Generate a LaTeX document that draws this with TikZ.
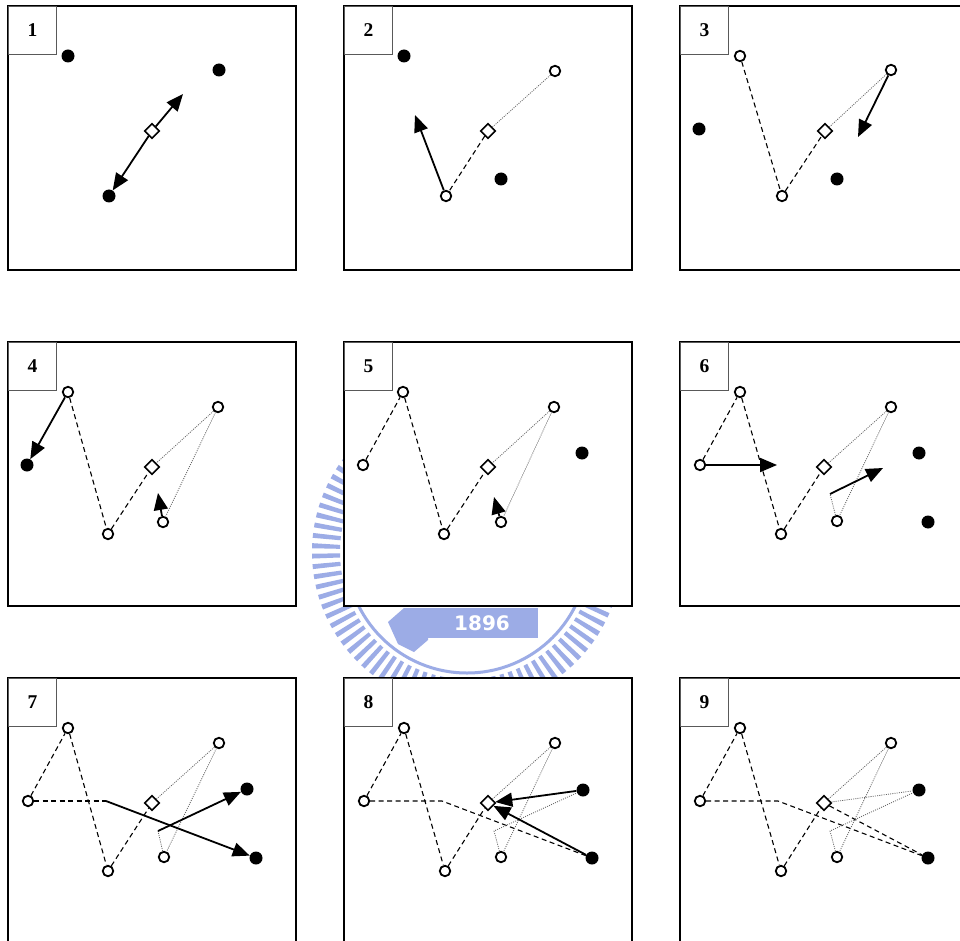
\documentclass[tikz,border=0pt]{standalone}
\usepackage{fontspec}
\setmainfont{Liberation Serif}
\setsansfont{DejaVu Sans}
\usetikzlibrary{shapes.geometric,arrows.meta}
\definecolor{wmblue}{RGB}{156,172,230}
\tikzset{
  pframe/.style={draw=black, line width=1.6pt, fill=white},
  lab/.style={draw=black!65, line width=0.8pt, fill=white, minimum size=48pt, inner sep=0pt, anchor=north west, font=\bfseries\fontsize{19.5}{19.5}\selectfont},
  opn/.style={circle, draw=black, line width=1.8pt, fill=white, minimum size=10.5pt, inner sep=0pt},
  fld/.style={circle, fill=black, minimum size=13pt, inner sep=0pt},
  dia/.style={diamond, aspect=1, draw=black, line width=1.6pt, fill=white, minimum size=15pt, inner sep=0pt},
  dsh/.style={line width=1.1pt, dash pattern=on 5pt off 3.5pt},
  dtd/.style={line width=0.8pt, black!60, dash pattern=on 1pt off 1.2pt},
  arr/.style={line width=1.8pt, -{Triangle[length=17pt,width=14pt]}},
}
\newcommand\mypanel[3]{%
  \draw[pframe] (#1,#2) rectangle ++(288,264);
  \node[lab] (lab#3) at (#1,#2) {#3};
}
\begin{document}
\begin{tikzpicture}[x=1pt,y=-1pt]
\useasboundingbox (0,0) rectangle (960,941);
\clip (0,0) rectangle (960,941);
\fill[white] (0,0) rectangle (960,941);
% watermark (faint logo behind the panels)
\draw[wmblue, line width=28pt, dash pattern=on 4.5pt off 5pt] (467,552) circle[radius=141];
\draw[wmblue, line width=3pt] (467,552) circle[radius=121];
\fill[wmblue] (388,622) -- (404,608) -- (428,608) -- (428,640) -- (414,652) -- (398,644) -- cycle;
\node[fill=wmblue, text=white, font=\sffamily\bfseries\fontsize{20}{20}\selectfont, minimum width=111pt, minimum height=30pt, inner sep=0pt] (wm) at (482,623) {1896};
% panels
\mypanel{8}{6}{1}
\mypanel{344}{6}{2}
\mypanel{680}{6}{3}
\mypanel{8}{342}{4}
\mypanel{344}{342}{5}
\mypanel{680}{342}{6}
\mypanel{8}{678}{7}
\mypanel{344}{678}{8}
\mypanel{680}{678}{9}
% ---------- panel 1
\begin{scope}[shift={(8,6)}]
  \node[fld] (aA) at (60,50) {};
  \node[fld] (aB) at (211,64) {};
  \node[fld] (aC) at (101,190) {};
  \node[dia] (aD) at (144,125) {};
  \coordinate (aT) at (175,88);
  \draw[arr] (aD) -- (aT);
  \draw[arr] (aD) -- (aC);
\end{scope}
% ---------- panel 2
\begin{scope}[shift={(344,6)}]
  \node[fld] (bA) at (60,50) {};
  \node[opn] (bB) at (211,65) {};
  \node[dia] (bD) at (144,125) {};
  \node[fld] (bE) at (157,173) {};
  \node[opn] (bC) at (102,190) {};
  \coordinate (bT) at (71,109);
  \draw[dtd] (bB) -- (bD);
  \draw[dsh] (bD) -- (bC);
  \draw[arr] (bC) -- (bT);
\end{scope}
% ---------- panel 3
\begin{scope}[shift={(680,6)}]
  \node[opn] (cA) at (60,50) {};
  \node[opn] (cB) at (211,64) {};
  \node[fld] (cF) at (19,123) {};
  \node[dia] (cD) at (145,125) {};
  \node[fld] (cE) at (157,173) {};
  \node[opn] (cC) at (102,190) {};
  \coordinate (cT) at (178,131);
  \draw[dsh] (cA) -- (cC);
  \draw[dsh] (cC) -- (cD);
  \draw[dtd] (cB) -- (cD);
  \draw[arr] (cB) -- (cT);
\end{scope}
% ---------- panel 4
\begin{scope}[shift={(8,342)}]
  \node[opn] (dA) at (60,50) {};
  \node[opn] (dB) at (210,65) {};
  \node[fld] (dF) at (19,123) {};
  \node[dia] (dD) at (144,125) {};
  \node[opn] (dE) at (155,180) {};
  \node[opn] (dC) at (100,192) {};
  \coordinate (dT) at (150,151);
  \draw[dsh] (dA) -- (dC);
  \draw[dsh] (dC) -- (dD);
  \draw[dtd] (dB) -- (dD);
  \draw[dtd] (dB) -- (dE);
  \draw[arr] (dA) -- (dF);
  \draw[arr] (dE) -- (dT);
\end{scope}
% ---------- panel 5
\begin{scope}[shift={(344,342)}]
  \node[opn] (eA) at (59,50) {};
  \node[opn] (eB) at (210,65) {};
  \node[opn] (eF) at (19,123) {};
  \node[dia] (eD) at (144,125) {};
  \node[opn] (eE) at (157,180) {};
  \node[opn] (eC) at (100,192) {};
  \node[fld] (eG) at (238,111) {};
  \coordinate (eT) at (150,155);
  \draw[dsh] (eF) -- (eA);
  \draw[dsh] (eA) -- (eC);
  \draw[dsh] (eC) -- (eD);
  \draw[dtd] (eB) -- (eD);
  \draw[dtd] (eB) -- (eE);
  \draw[arr] (eE) -- (eT);
\end{scope}
% ---------- panel 6
\begin{scope}[shift={(680,342)}]
  \node[opn] (fA) at (60,50) {};
  \node[opn] (fB) at (211,65) {};
  \node[opn] (fF) at (20,123) {};
  \node[dia] (fD) at (144,125) {};
  \node[opn] (fE) at (157,179) {};
  \node[opn] (fC) at (101,192) {};
  \node[fld] (fG) at (239,111) {};
  \node[fld] (fH) at (248,180) {};
  \coordinate (fS) at (150,152);
  \coordinate (fT1) at (97,123);
  \coordinate (fT2) at (203,126);
  \draw[dsh] (fF) -- (fA);
  \draw[dsh] (fA) -- (fC);
  \draw[dsh] (fC) -- (fD);
  \draw[dtd] (fB) -- (fD);
  \draw[dtd] (fB) -- (fE);
  \draw[dtd] (fE) -- (fS);
  \draw[arr] (fF) -- (fT1);
  \draw[arr] (fS) -- (fT2);
\end{scope}
% ---------- panel 7
\begin{scope}[shift={(8,678)}]
  \node[opn] (gA) at (60,50) {};
  \node[opn] (gB) at (211,65) {};
  \node[opn] (gF) at (20,123) {};
  \node[dia] (gD) at (144,125) {};
  \node[opn] (gE) at (156,179) {};
  \node[opn] (gC) at (100,193) {};
  \node[fld] (gG) at (239,111) {};
  \node[fld] (gH) at (248,180) {};
  \coordinate (gQ) at (98,123);
  \coordinate (gS) at (150,153);
  \draw[dsh] (gF) -- (gA);
  \draw[dsh] (gA) -- (gC);
  \draw[dsh] (gC) -- (gD);
  \draw[dsh] (gF) -- (gQ);
  \draw[dtd] (gB) -- (gD);
  \draw[dtd] (gB) -- (gE);
  \draw[dtd] (gE) -- (gS);
  \draw[arr] (gQ) -- (gH);
  \draw[arr] (gS) -- (gG);
\end{scope}
% ---------- panel 8
\begin{scope}[shift={(344,678)}]
  \node[opn] (hA) at (60,50) {};
  \node[opn] (hB) at (211,65) {};
  \node[opn] (hF) at (20,123) {};
  \node[dia] (hD) at (144,125) {};
  \node[opn] (hE) at (157,179) {};
  \node[opn] (hC) at (101,193) {};
  \node[fld] (hG) at (239,112) {};
  \node[fld] (hH) at (248,180) {};
  \coordinate (hQ) at (98,123);
  \coordinate (hS) at (150,153);
  \draw[dsh] (hF) -- (hA);
  \draw[dsh] (hA) -- (hC);
  \draw[dsh] (hC) -- (hD);
  \draw[dsh] (hF) -- (hQ) -- (hH);
  \draw[dtd] (hB) -- (hD);
  \draw[dtd] (hB) -- (hE);
  \draw[dtd] (hE) -- (hS) -- (hG);
  \draw[arr] (hG) -- (hD);
  \draw[arr] (hH) -- (hD);
\end{scope}
% ---------- panel 9
\begin{scope}[shift={(680,678)}]
  \node[opn] (iA) at (60,50) {};
  \node[opn] (iB) at (211,65) {};
  \node[opn] (iF) at (20,123) {};
  \node[dia] (iD) at (144,125) {};
  \node[opn] (iE) at (157,179) {};
  \node[opn] (iC) at (101,193) {};
  \node[fld] (iG) at (239,112) {};
  \node[fld] (iH) at (248,180) {};
  \coordinate (iQ) at (98,123);
  \coordinate (iS) at (150,153);
  \draw[dsh] (iF) -- (iA);
  \draw[dsh] (iA) -- (iC);
  \draw[dsh] (iC) -- (iD);
  \draw[dsh] (iF) -- (iQ) -- (iH);
  \draw[dsh] (iD) -- (iH);
  \draw[dtd] (iB) -- (iD);
  \draw[dtd] (iB) -- (iE);
  \draw[dtd] (iE) -- (iS) -- (iG);
  \draw[dtd] (iD) -- (iG);
\end{scope}
\end{tikzpicture}
\end{document}
